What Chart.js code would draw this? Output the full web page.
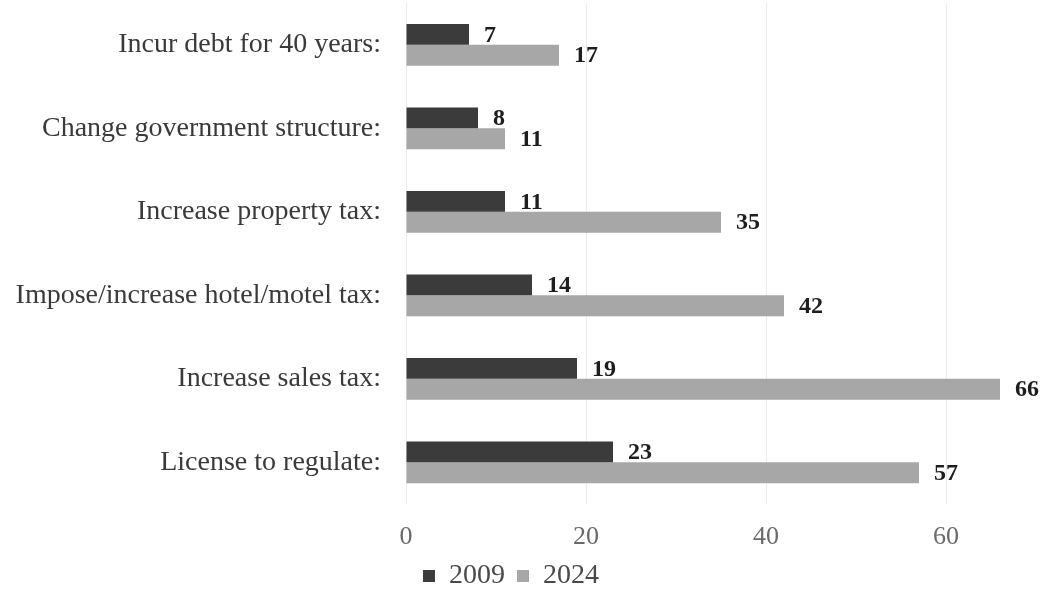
<html>
<head>
  <title>Revenue options</title>
  <script src="https://cdn.jsdelivr.net/npm/chart.js@4.4.1/dist/chart.umd.min.js"></script>
  <style>
  body {
    margin: 0;
    background: #ffffff;
  }
  #wrap {
    width: 1060px;
    height: 600px;
  }
  </style>
</head>
<body>
  <div id="wrap"><canvas id="bar-chart"></canvas></div>

  <script>
    var categories = [
      "Incur debt for 40 years:",
      "Change government structure:",
      "Increase property tax:",
      "Impose/increase hotel/motel tax:",
      "Increase sales tax:",
      "License to regulate:"
    ];
    var seriesNames = ["2009", "2024"];
    var values2009 = [7, 8, 11, 14, 19, 23];
    var values2024 = [17, 11, 35, 42, 66, 57];
    var tickValues = [0, 20, 40, 60];

    var serif = "'Liberation Serif', 'Times New Roman', serif";

    // writes the number just past the end of each bar
    var valueLabels = {
      id: 'valueLabels',
      afterDatasetsDraw: function(chart) {
        var ctx = chart.ctx;
        ctx.save();
        ctx.font = "bold 24px " + serif;
        ctx.fillStyle = "#1e1e1e";
        ctx.textAlign = "left";
        ctx.textBaseline = "middle";
        chart.data.datasets.forEach(function(ds, i) {
          chart.getDatasetMeta(i).data.forEach(function(bar, j) {
            ctx.fillText(ds.data[j], bar.x + 15, bar.y + 1);
          });
        });
        ctx.restore();
      }
    };

    // nudge the legend a little to the left
    var legendShift = {
      id: 'legendShift',
      afterLayout: function(chart) {
        if (chart.legend) chart.legend.right -= 14;
      }
    };

    new Chart(document.getElementById("bar-chart"), {
      type: 'bar',
      data: {
        labels: categories,
        datasets: [
          {
            label: seriesNames[0],
            backgroundColor: "#3b3b3b",
            data: values2009
          },
          {
            label: seriesNames[1],
            backgroundColor: "#a7a7a7",
            data: values2024
          }
        ]
      },
      plugins: [valueLabels, legendShift],
      options: {
        indexAxis: 'y',
        responsive: true,
        maintainAspectRatio: false,
        animation: false,
        layout: { padding: { top: 3, right: 24, left: 0, bottom: 0 } },
        datasets: {
          bar: { categoryPercentage: 0.5, barPercentage: 1.0 }
        },
        scales: {
          x: {
            min: 0,
            max: 70,
            afterBuildTicks: function(scale) {
              scale.ticks = tickValues.map(function(v) { return { value: v }; });
            },
            afterFit: function(scale) { scale.height = 46; },
            grid: { color: "#ececec", lineWidth: 1, drawTicks: false },
            border: { display: false },
            ticks: {
              padding: 20,
              color: "#6a6a6a",
              font: { family: serif, size: 26, lineHeight: 1 }
            }
          },
          y: {
            afterFit: function(scale) {
              scale.width = 406;
              scale.paddingTop = 0;
              scale.paddingBottom = 0;
            },
            grid: { display: false },
            border: { display: false },
            ticks: {
              padding: 17,
              color: "#3a3a3a",
              font: { family: serif, size: 28, lineHeight: 1 }
            }
          }
        },
        plugins: {
          legend: {
            position: 'bottom',
            labels: {
              boxWidth: 12,
              boxHeight: 12,
              padding: 12,
              color: "#4a4a4a",
              font: { family: serif, size: 28 }
            }
          },
          tooltip: { enabled: false }
        }
      }
    });
  </script>
</body>
</html>
